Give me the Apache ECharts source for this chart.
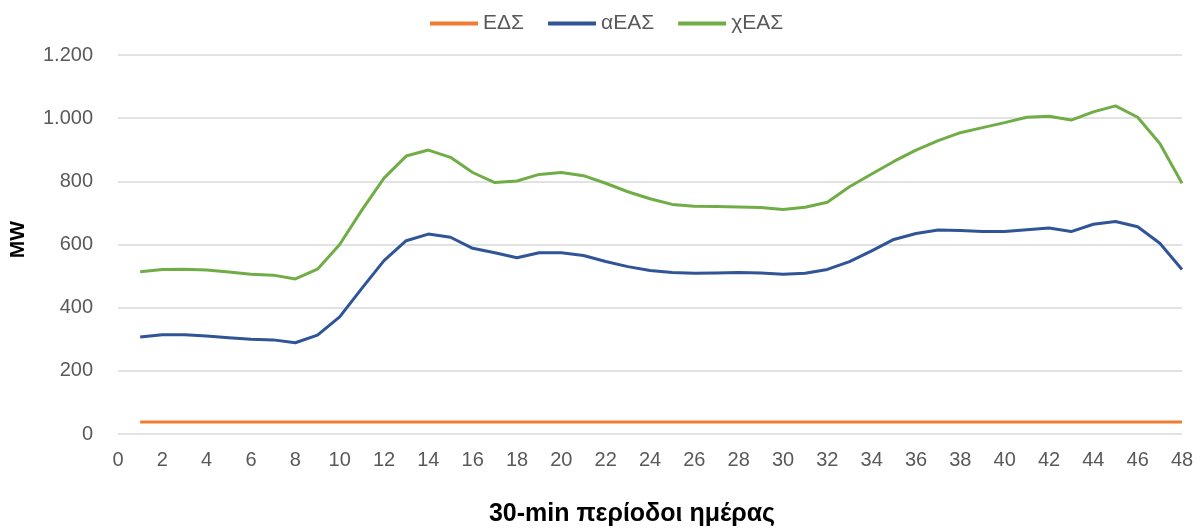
<!DOCTYPE html>
<html>
<head>
<meta charset="utf-8">
<script src="https://cdn.jsdelivr.net/npm/echarts@6/dist/echarts.min.js"></script>
<style>
html,body{margin:0;padding:0;background:#fff;}
#chart{width:1202px;height:532px;}
</style>
</head>
<body>
<div id="chart"></div>
<script>
var periods = [1,2,3,4,5,6,7,8,9,10,11,12,13,14,15,16,17,18,19,20,21,22,23,24,25,26,27,28,29,30,31,32,33,34,35,36,37,38,39,40,41,42,43,44,45,46,47,48];
var seriesNames = ['ΕΔΣ', 'αΕΑΣ', 'χΕΑΣ'];
var edsValues = [38,38,38,38,38,38,38,38,38,38,38,38,38,38,38,38,38,38,38,38,38,38,38,38,38,38,38,38,38,38,38,38,38,38,38,38,38,38,38,38,38,38,38,38,38,38,38,38];
var aeasValues = [307,314,314,310,305,300,298,289,313,371,461,549,612,633,623,588,574,558,574,574,565,546,530,518,511,509,510,511,510,506,509,521,546,580,616,635,646,644,641,641,647,652,641,664,673,656,604,521];
var xeasValues = [514,521,522,519,513,506,503,491,522,600,709,810,880,899,876,828,796,801,822,828,818,794,767,745,727,721,720,719,717,711,718,734,783,823,863,899,929,954,970,986,1003,1006,994,1020,1039,1003,920,794];
var xTicks = {min: 0, max: 48, interval: 2};
var yTicks = {min: 0, max: 1200, interval: 200};

function pairs(vals){ return periods.map(function(p,i){ return [p, vals[i]]; }); }
var FONT = '"Liberation Sans", Arial, sans-serif';
var TXT = '#595959';

var chart = echarts.init(document.getElementById('chart'), null, {renderer:'canvas'});
chart.setOption({
  animation: false,
  color: ['#ED7D31', '#2F5597', '#70AD47'],
  textStyle: {fontFamily: FONT},
  legend: {
    top: 8, left: 425,
    itemWidth: 48, itemHeight: 4, itemGap: 24,
    icon: 'rect',
    textStyle: {fontSize: 21, color: TXT, fontFamily: FONT},
    data: seriesNames
  },
  grid: {left: 118, right: 20, top: 55, bottom: 98, containLabel: false},
  xAxis: {
    type: 'value', min: xTicks.min, max: xTicks.max, interval: xTicks.interval,
    name: '30-min περίοδοι ημέρας', nameLocation: 'middle', nameGap: 68,
    nameTextStyle: {fontSize: 25, fontWeight: 'bold', color: '#000', fontFamily: FONT, padding: [0, 36, 0, 0]},
    axisLine: {show: false}, axisTick: {show: false},
    splitLine: {show: false},
    axisLabel: {fontSize: 20, color: TXT, margin: 16, fontFamily: FONT}
  },
  yAxis: {
    type: 'value', min: yTicks.min, max: yTicks.max, interval: yTicks.interval,
    name: 'MW', nameLocation: 'middle', nameGap: 89,
    nameTextStyle: {fontSize: 21, fontWeight: 'bold', color: '#000', fontFamily: FONT, padding: [0, 0, 0, 10]},
    axisLine: {show: false}, axisTick: {show: false},
    splitLine: {lineStyle: {color: '#D9D9D9', width: 1.5}},
    axisLabel: {fontSize: 20, color: TXT, margin: 25, fontFamily: FONT,
      formatter: function(v){ return String(v).replace(/\B(?=(\d{3})+(?!\d))/g, '.'); }}
  },
  series: [
    {name: seriesNames[0], type: 'line', data: pairs(edsValues), showSymbol: false, lineStyle: {width: 3}},
    {name: seriesNames[1], type: 'line', data: pairs(aeasValues), showSymbol: false, lineStyle: {width: 3}},
    {name: seriesNames[2], type: 'line', data: pairs(xeasValues), showSymbol: false, lineStyle: {width: 3}}
  ]
});
</script>
</body>
</html>
